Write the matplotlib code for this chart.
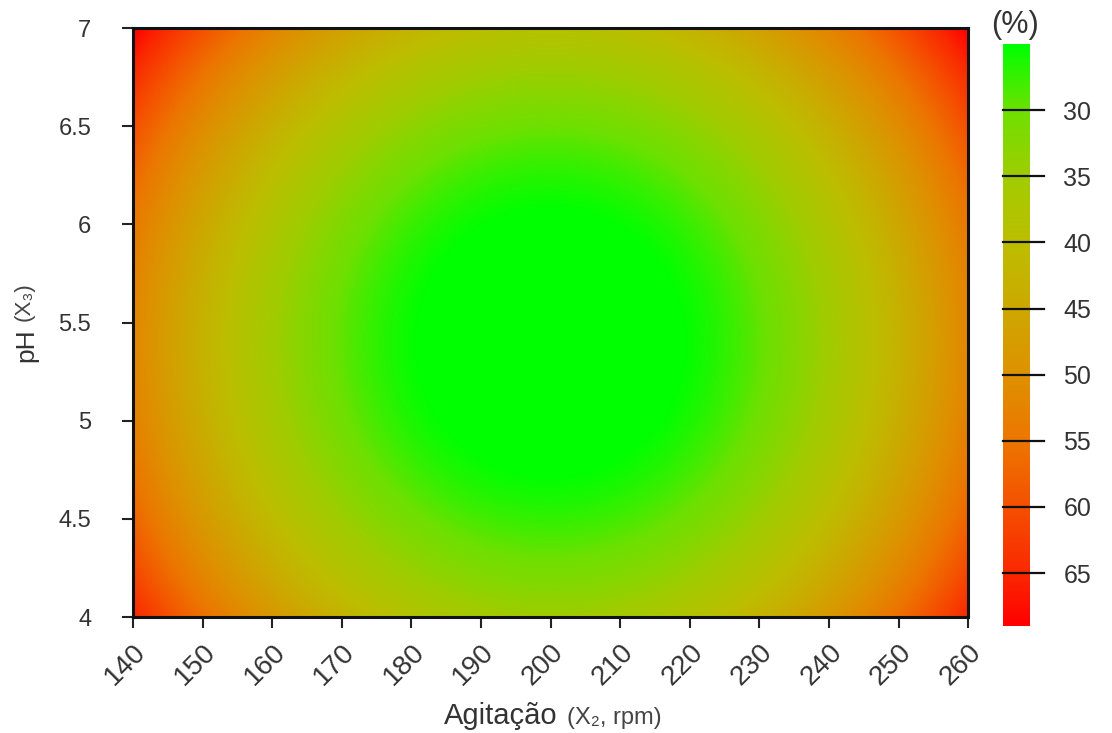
#!/usr/bin/env python3

# Response surface: pH vs agitation, colour = response (%)

import numpy as np
import matplotlib
matplotlib.use('Agg')
import matplotlib.pyplot as plt
import matplotlib.transforms as mtransforms
from matplotlib.colors import LinearSegmentedColormap
from matplotlib.offsetbox import TextArea, HPacker, AnchoredOffsetbox

plt.rcParams['font.family'] = ['Liberation Sans', 'DejaVu Sans']
NARROW = ['Liberation Sans Narrow', 'Liberation Sans', 'DejaVu Sans']

# fitted quadratic model in coded units
b0 = 22.0
b22 = 30.0     # agitation squared term
b33 = 15.0     # pH squared term
rpm_center, rpm_step = 200.0, 60.0
ph_center, ph_step = 5.4, 1.5

rpm_range = [140, 260]
ph_range = [4, 7]
x_ticks = [140, 150, 160, 170, 180, 190, 200, 210, 220, 230, 240, 250, 260]
y_ticks = [4, 4.5, 5, 5.5, 6, 6.5, 7]
y_labels = ['4', '4.5', '5', '5.5', '6', '6.5', '7']
cb_ticks = [30, 35, 40, 45, 50, 55, 60, 65]
cb_min, cb_max = 25, 69

# colour scale
cmap_vals = [25, 30, 35, 40, 45, 50, 55, 60, 65, 69]
cmap_cols = ['#00ff00', '#6ee000', '#a0cc00', '#bcbe00', '#cda800',
             '#de9100', '#ec7600', '#f55000', '#fa2800', '#ff0000']


def graph():
    stops = [(v - cb_min) / (cb_max - cb_min) for v in cmap_vals]
    cmap = LinearSegmentedColormap.from_list('rg', list(zip(stops, cmap_cols)))

    rpm = np.linspace(rpm_range[0], rpm_range[1], 400)
    ph = np.linspace(ph_range[0], ph_range[1], 300)
    X, Y = np.meshgrid(rpm, ph)
    x2 = (X - rpm_center) / rpm_step
    x3 = (Y - ph_center) / ph_step
    Z = b0 + b22 * x2 ** 2 + b33 * x3 ** 2

    fig = plt.figure(figsize=(11.12, 7.33), dpi=100)
    ax = fig.add_axes([0.1196, 0.1582, 0.751, 0.8036])
    mesh = ax.pcolormesh(X, Y, Z, cmap=cmap, vmin=cb_min, vmax=cb_max,
                         shading='gouraud', rasterized=True)
    ax.set_xlim(rpm_range)
    ax.set_ylim(ph_range)

    for s in ax.spines.values():
        s.set_linewidth(2.2)
        s.set_color('#111111')
    ax.set_xticks(x_ticks)
    ax.set_xticklabels([str(t) for t in x_ticks], rotation=45, ha='right',
                       va='top', rotation_mode='anchor', fontsize=20)
    shift = mtransforms.ScaledTranslation(-9 / 72, 0, fig.dpi_scale_trans)
    for lab in ax.get_xticklabels():
        lab.set_transform(lab.get_transform() + shift)
    ax.set_yticks(y_ticks)
    ax.set_yticklabels(y_labels, fontsize=17)
    ax.tick_params(direction='out', length=8, width=1.5, colors='#222222',
                   labelcolor='#333333')
    ax.tick_params(axis='x', pad=8)
    ax.tick_params(axis='y', pad=22)

    # x label: big word + small units
    xl = HPacker(children=[
        TextArea('Agitação', textprops=dict(size=21, color='#333333')),
        TextArea('(X₂, rpm)', textprops=dict(size=17, color='#444444',
                                             family=NARROW))],
        align='baseline', pad=0, sep=7)
    fig.add_artist(AnchoredOffsetbox(loc='center', child=xl, frameon=False,
                                     bbox_to_anchor=(0.497, 0.023),
                                     bbox_transform=fig.transFigure, pad=0))
    # y label, rotated
    fig.text(0.024, 0.529, 'pH', rotation=90, fontsize=19, color='#333333',
             ha='center', va='center')
    fig.text(0.022, 0.589, '(X₃)', rotation=90, fontsize=16, color='#444444',
             ha='center', va='center', family=NARROW)

    # colour bar
    cax = fig.add_axes([0.902, 0.146, 0.0243, 0.794])
    cb = fig.colorbar(mesh, cax=cax)
    cb.outline.set_visible(False)
    cax.invert_yaxis()
    cb.set_ticks(cb_ticks)
    cax.tick_params(length=0, labelsize=18, labelcolor='#333333', pad=24)
    for t in cb_ticks:
        cax.plot([0, 1.5], [t, t], color='#111111', lw=1.6,
                 transform=cax.get_yaxis_transform(), clip_on=False)
    fig.text(0.913, 0.966, '(%)', fontsize=22, color='#333333',
             ha='center', va='center')

    fig.savefig('out.png', dpi=100)


if __name__ == "__main__":
    graph()
